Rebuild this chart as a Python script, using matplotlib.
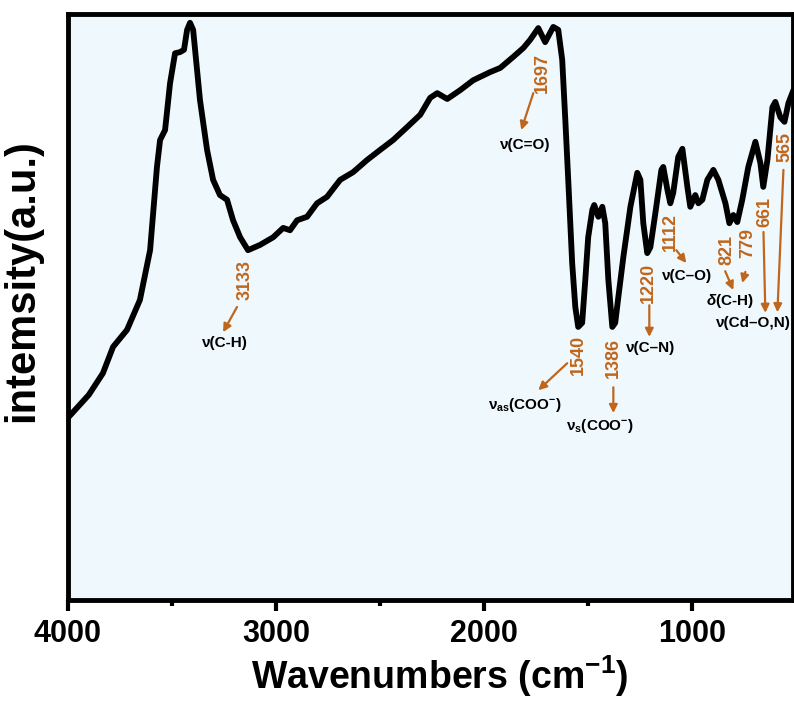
import numpy as np
import matplotlib.pyplot as plt

plt.rcParams['font.family'] = ['Liberation Sans', 'DejaVu Sans']
plt.rcParams['mathtext.fontset'] = 'custom'
plt.rcParams['mathtext.rm'] = 'Liberation Sans:bold'
plt.rcParams['mathtext.bf'] = 'Liberation Sans:bold'
plt.rcParams['mathtext.it'] = 'Liberation Sans:italic:bold'

# FTIR spectrum (wavenumber in cm-1, intensity a.u.)
wavenumber = [4000, 3900, 3832, 3783, 3716, 3654, 3605, 3572, 3557, 3533, 3509,
              3485, 3461, 3442, 3427, 3413, 3398, 3365, 3331, 3302, 3269, 3235,
              3206, 3172, 3134, 3076, 3013, 2965, 2932, 2898, 2850, 2802, 2754,
              2691, 2629, 2561, 2499, 2436, 2369, 2306, 2258, 2224, 2176, 2114,
              2051, 1969, 1921, 1858, 1810, 1777, 1738, 1705, 1666, 1642, 1623, 1608,
              1594, 1575, 1560, 1546, 1527, 1512, 1498, 1478, 1469, 1449, 1430,
              1416, 1401, 1382, 1368, 1353, 1329, 1295, 1262, 1247, 1233, 1214,
              1199, 1175, 1146, 1137, 1117, 1103, 1089, 1065, 1045, 1021, 1007,
              983, 968, 949, 925, 896, 872, 838, 819, 800, 781, 757, 728, 694,
              670, 656, 636, 612, 598, 574, 554, 535, 511]
intensity = [31.1, 35.0, 38.7, 43.2, 46.1, 51.2, 59.7, 73.9, 78.5, 80.2, 88.2,
             93.3, 93.5, 93.9, 97.3, 98.5, 97.3, 85.3, 76.8, 71.7, 69.1, 68.3,
             64.8, 61.9, 59.7, 60.6, 61.9, 63.5, 63.1, 64.8, 65.4, 67.7, 68.8,
             71.7, 73.0, 75.1, 76.8, 78.5, 80.7, 82.8, 85.7, 86.5, 85.5, 87.0,
             88.7, 90.1, 90.8, 92.7, 94.2, 95.6, 97.6, 95.2, 97.8, 97.3, 92.2, 81.9,
             71.7, 57.5, 50.0, 46.6, 47.3, 54.6, 61.9, 66.6, 67.4, 65.4, 67.1,
             64.3, 54.6, 46.6, 47.3, 51.7, 58.5, 67.1, 72.9, 71.7, 64.3, 59.2,
             60.2, 66.0, 73.4, 73.9, 70.0, 67.7, 69.5, 75.6, 77.0, 70.5, 67.1,
             69.1, 67.7, 68.3, 71.7, 73.4, 71.7, 67.7, 64.3, 65.7, 64.5, 68.3,
             73.9, 78.2, 74.6, 70.5, 75.1, 84.1, 85.0, 82.4, 81.6, 84.8, 87.0]

# band labels: (number, number pos, arrow start, arrow end)
peak_labels = ['3133', '1697', '1540', '1386', '1220', '1112', '821', '779', '661', '565']
peak_text_pos = [(3148, 54.6), (1719, 89.9), (1546, 41.8), (1377, 41.3), (1209, 54.1),
                 (1103, 62.8), (829, 59.7), (732, 60.9), (646, 66.2), (550, 77.3)]
arrow_from = [(3187, 50.0), (1762, 86.5), (1599, 40.4), (1377, 36.3), (1204, 50.3),
              (1074, 59.7), (839, 56.1), (742, 56.0), (655, 62.8), (559, 73.4)]
arrow_to = [(3254, 45.7), (1820, 80.2), (1738, 35.8), (1377, 31.9), (1204, 44.9),
            (1026, 57.5), (800, 52.9), (757, 54.1), (646, 49.0), (588, 49.1)]

# vibration assignments
modes = ['ν(C-H)', 'ν(C=O)', r'ν$_{\mathbf{as}}$(COO$^{\mathbf{-}}$)',
         r'ν$_{\mathbf{s}}$(COO$^{\mathbf{-}}$)', 'ν(C–N)', 'ν(C–O)',
         r'$\mathit{δ}$(C-H)', 'ν(Cd–O,N)']
mode_pos = [(3244, 43.9), (1801, 77.6), (1801, 33.3), (1440, 29.7), (1199, 43.0),
            (1021, 55.3), (814, 51.0), (704, 47.3)]

orange = '#C0661C'

fig = plt.figure(figsize=(7.94, 7.01), dpi=100)
ax = fig.add_axes([0.0856, 0.1441, 0.9134, 0.8359])
ax.set_facecolor('#EFF8FC')

ax.plot(wavenumber, intensity, color='black', lw=4.2,
        solid_joinstyle='round', solid_capstyle='round')

for lab, pos in zip(peak_labels, peak_text_pos):
    ax.text(pos[0], pos[1], lab, color=orange, fontsize=13, fontweight='bold',
            rotation=90, ha='center', va='center')
for a, b in zip(arrow_from, arrow_to):
    ax.annotate('', xy=b, xytext=a,
                arrowprops=dict(arrowstyle='-|>', color=orange, lw=1.6,
                                mutation_scale=12, shrinkA=0, shrinkB=0))
for m, pos in zip(modes, mode_pos):
    ax.text(pos[0], pos[1], m, color='black', fontsize=11, fontweight='bold',
            ha='center', va='center')

ax.set_xlim(4000, 512)
ax.set_ylim(0, 100)
ax.set_xticks([4000, 3000, 2000, 1000])
ax.set_xticks([3500, 2500, 1500], minor=True)
ax.set_yticks([])
ax.tick_params(axis='x', which='major', direction='out', length=8, width=3,
               labelsize=22, pad=6)
ax.tick_params(axis='x', which='minor', direction='out', length=4, width=3)
for lbl in ax.get_xticklabels():
    lbl.set_fontweight('bold')
for s in ax.spines.values():
    s.set_linewidth(3.5)

ax.set_xlabel(r'Wavenumbers (cm$^{\mathbf{-1}}$)', fontsize=27, fontweight='bold')
ax.xaxis.set_label_coords(0.513, -0.092)
ax.set_ylabel('intemsity(a.u.)', fontsize=30, fontweight='bold')
ax.yaxis.set_label_coords(-0.035, 0.545)

plt.savefig('out.png', dpi=100)
